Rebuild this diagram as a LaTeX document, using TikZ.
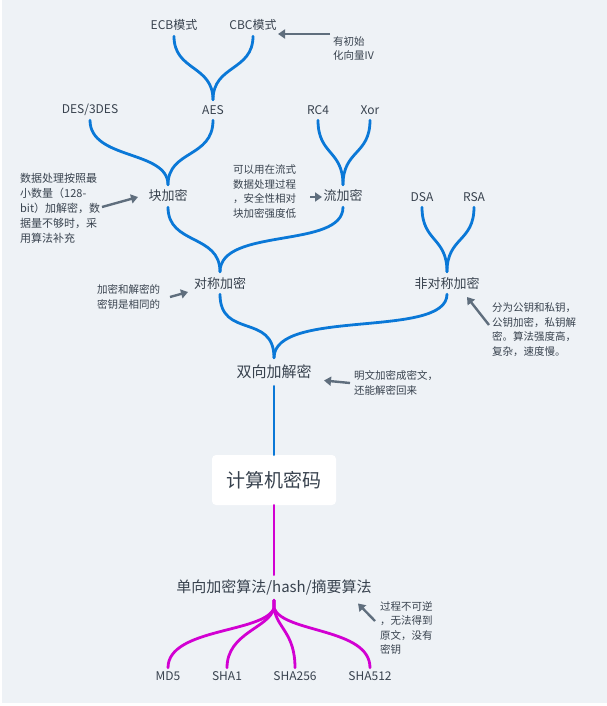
\documentclass[tikz,border=0pt]{standalone}
\usepackage{fontspec}
\setmainfont{Noto Sans CJK SC}
\usetikzlibrary{arrows.meta}
\definecolor{bg}{RGB}{238,242,246}
\definecolor{branchblue}{RGB}{10,120,215}
\definecolor{branchpink}{RGB}{210,0,210}
\definecolor{ink}{RGB}{56,66,78}
\definecolor{pointer}{RGB}{95,110,125}

\begin{document}
\begin{tikzpicture}[x=1pt,y=-1pt,
  every node/.style={text=ink, inner sep=0pt},
  leaf/.style={font=\fontsize{12}{14}\selectfont, minimum height=20pt},
  mid/.style={font=\fontsize{13}{15}\selectfont, minimum height=22pt},
  big/.style={font=\fontsize{15}{18}\selectfont},
  note/.style={font=\fontsize{10.5}{14.5}\selectfont, align=left, anchor=west},
  bluebranch/.style={draw=branchblue, line width=2.8pt, line cap=round},
  pinkbranch/.style={draw=branchpink, line width=2.8pt, line cap=round},
  pointerarrow/.style={draw=pointer, line width=2.4pt, -{Triangle[length=7pt,width=9pt]}},
]
% canvas
\fill[white] (0,0) rectangle (607,706);
\fill[bg] (2,0) rectangle (607,703);
\useasboundingbox (0,0) rectangle (607,706);

% --- nodes -------------------------------------------------------------
\node[leaf, minimum height=22pt] (ecb) at (174,25) {ECB模式};
\node[leaf, minimum height=22pt] (cbc) at (253,25) {CBC模式};
\node[leaf] (des) at (90,110) {DES/3DES};
\node[leaf] (aes) at (213,110) {AES};
\node[leaf] (rc4) at (318,110) {RC4};
\node[leaf] (xor) at (370,110) {Xor};
\node[mid] (blk) at (168,196) {块加密};
\node[mid] (stream) at (343,196) {流加密};
\node[leaf] (dsa) at (422,197) {DSA};
\node[leaf] (rsa) at (474,197) {RSA};
\node[mid] (sym) at (220,283) {对称加密};
\node[mid] (asym) at (447,283) {非对称加密};
\node[big, minimum height=28pt] (two) at (274,372) {双向加解密};
\node[fill=white, rounded corners=4pt, minimum width=124pt, minimum height=50pt,
      font=\fontsize{19}{22}\selectfont] (root) at (274,480) {计算机密码};
\node[big, minimum height=25pt] (one) at (274,587.5) {单向加密算法/hash/摘要算法};
\node[leaf, minimum height=16pt] (md5) at (168,676) {MD5};
\node[leaf, minimum height=16pt] (sha1) at (227,676) {SHA1};
\node[leaf, minimum height=16pt] (sha256) at (295,676) {SHA256};
\node[leaf, minimum height=16pt] (sha512) at (370,676) {SHA512};

% --- notes -------------------------------------------------------------
\node[note] (ivnote) at (333,48.5) {有初始\\化向量IV};
\node[note, font=\fontsize{11}{15}\selectfont] (blknote) at (20,208)
  {数据处理按照最\\小数量（128-\\bit）加解密，数\\据量不够时，采\\用算法补充};
\node[note] (streamnote) at (233,191.5)
  {可以用在流式\\数据处理过程\\，安全性相对\\块加密强度低};
\node[note] (symnote) at (97,297) {加密和解密的\\密钥是相同的};
\node[note] (asymnote) at (492,329.5)
  {分为公钥和私钥，\\公钥加密，私钥解\\密。算法强度高，\\复杂，速度慢。};
\node[note] (twonote) at (354,383) {明文加密成密文，\\还能解密回来};
\node[note] (onenote) at (380,628) {过程不可逆\\，无法得到\\原文，没有\\密钥};

% --- two-way branch ----------------------------------------------------
\draw[bluebranch] (ecb.south) .. controls +(0,35) and +(0,-35) .. (aes.north);
\draw[bluebranch] (cbc.south) .. controls +(0,35) and +(0,-35) .. (aes.north);
\draw[bluebranch] (des.south) .. controls +(0,40) and +(0,-35) .. (blk.north);
\draw[bluebranch] (aes.south) .. controls +(0,38) and +(0,-35) .. (blk.north);
\draw[bluebranch] (rc4.south) .. controls +(0,35) and +(0,-35) .. (stream.north);
\draw[bluebranch] (xor.south) .. controls +(0,35) and +(0,-35) .. (stream.north);
\draw[bluebranch] (blk.south) .. controls +(0,38) and +(0,-38) .. (sym.north);
\draw[bluebranch] (stream.south) .. controls +(0,42) and +(0,-45) .. (sym.north);
\draw[bluebranch] (dsa.south) .. controls +(0,35) and +(0,-35) .. (asym.north);
\draw[bluebranch] (rsa.south) .. controls +(0,35) and +(0,-35) .. (asym.north);
\draw[bluebranch] (sym.south) .. controls +(0,45) and +(0,-45) .. (two.north);
\draw[bluebranch] (asym.south) .. controls +(0,45) and +(0,-50) .. (two.north);
\draw[bluebranch] (two.south) -- (root.north);

% --- one-way branch ----------------------------------------------------
\draw[pinkbranch] (root.south) -- (one.north);
\draw[pinkbranch] (one.south) -- ++(0,8) .. controls +(-10,25) and +(0,-40) .. (md5.north);
\draw[pinkbranch] (one.south) -- ++(0,8) .. controls +(-5,20) and +(0,-35) .. (sha1.north);
\draw[pinkbranch] (one.south) -- ++(0,8) .. controls +(3,20) and +(0,-35) .. (sha256.north);
\draw[pinkbranch] (one.south) -- ++(0,8) .. controls +(10,25) and +(0,-40) .. (sha512.north);

% --- pointers from the notes -------------------------------------------
\draw[pointerarrow] ([shift={(-3,-14.5)}]ivnote.west) -- ([shift={(25,9)}]cbc.center);
\draw[pointerarrow] ([shift={(82,-1)}]blknote.west) -- ([shift={(-30,1)}]blk.center);
\draw[pointerarrow] ([shift={(77,5.5)}]streamnote.west) -- ([shift={(-21,1)}]stream.center);
\draw[pointerarrow] ([shift={(73,0)}]symnote.west) -- ([shift={(-32,9)}]sym.center);
\draw[pointerarrow] ([shift={(-3,-4.5)}]asymnote.west) -- ([shift={(20,14)}]asym.center);
\draw[pointerarrow] ([shift={(-4,0)}]twonote.west) -- ([shift={(50,8.5)}]two.center);
\draw[pointerarrow] ([shift={(-5,-7)}]onenote.west) -- ([shift={(84,16)}]one.center);
\end{tikzpicture}
\end{document}
